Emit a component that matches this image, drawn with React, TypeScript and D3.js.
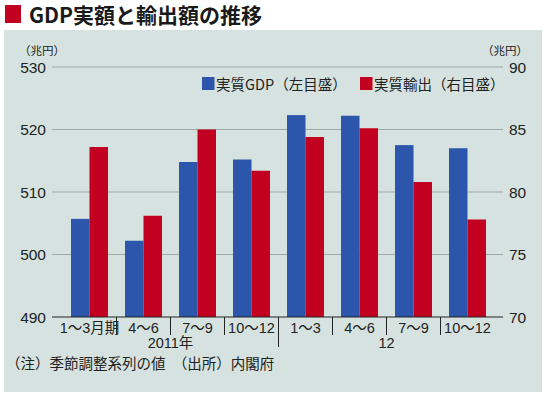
import React, { useEffect, useRef } from "react";
import * as d3 from "d3";

const quarters = ["1〜3月期", "4〜6", "7〜9", "10〜12", "1〜3", "4〜6", "7〜9", "10〜12"];
const yearLabels = ["2011年", "12"];
const yearStarts = [0, 4];
const gdpValues = [505.7, 502.2, 514.8, 515.2, 522.3, 522.2, 517.5, 517.0];
const exportValues = [83.6, 78.1, 85.0, 81.7, 84.4, 85.1, 80.8, 77.8];
const leftTicks = [490, 500, 510, 520, 530];
const rightTicks = [70, 75, 80, 85, 90];
const seriesKeys = ["gdp", "export"];
const seriesNames = ["実質GDP（左目盛）", "実質輸出（右目盛）"];
const seriesColors = ["#2b56ab", "#c2001f"];

const JP = "'Noto Sans CJK JP', sans-serif";
const NUM = "'Liberation Sans', Arial, 'Noto Sans CJK JP', sans-serif";

const App: React.FC = () => {
	const svgRef = useRef<SVGSVGElement>(null);

	useEffect(() => {
		if (!svgRef.current) return;
		const svg = d3.select(svgRef.current);
		svg.selectAll("*").remove();

		const plotLeft = 52;
		const plotRight = 503;
		const yTop = 67;
		const yBottom = 317;

		// panel + title
		svg.append("rect").attr("x", 4).attr("y", 30).attr("width", 538).attr("height", 362).attr("fill", "#d6e2df");
		svg.append("rect").attr("x", 5).attr("y", 5).attr("width", 16).attr("height", 18).attr("fill", "#c2001f");
		svg.append("text")
			.attr("x", 29).attr("y", 23)
			.attr("font-family", JP).attr("font-weight", "bold").attr("font-size", 21)
			.attr("fill", "#1a1a1a")
			.text("GDP実額と輸出額の推移");

		const idx = quarters.map((_, i) => String(i));
		const x0 = d3.scaleBand().domain(idx).range([62.5, 494.5]).padding(0);
		const x1 = d3.scaleBand().domain(seriesKeys).range([8.5, 45.5]).padding(0);
		const yLeft = d3.scaleLinear().domain([490, 530]).range([yBottom, yTop]);
		const yRight = d3.scaleLinear().domain([70, 90]).range([yBottom, yTop]);

		// grid
		svg.append("g")
			.selectAll("line")
			.data(leftTicks.slice(1))
			.join("line")
			.attr("x1", plotLeft).attr("x2", plotRight)
			.attr("y1", (d) => yLeft(d)).attr("y2", (d) => yLeft(d))
			.attr("stroke", "#9ea9a7").attr("stroke-width", 1);

		// bars
		const groups = svg.append("g")
			.selectAll("g")
			.data(idx)
			.join("g")
			.attr("transform", (d) => `translate(${x0(d)},0)`);

		groups.append("rect")
			.attr("x", x1("gdp") || 0)
			.attr("width", x1.bandwidth())
			.attr("y", (d) => yLeft(gdpValues[+d]))
			.attr("height", (d) => yBottom - yLeft(gdpValues[+d]))
			.attr("fill", seriesColors[0]);

		groups.append("rect")
			.attr("x", x1("export") || 0)
			.attr("width", x1.bandwidth())
			.attr("y", (d) => yRight(exportValues[+d]))
			.attr("height", (d) => yBottom - yRight(exportValues[+d]))
			.attr("fill", seriesColors[1]);

		// bottom axis line
		svg.append("line")
			.attr("x1", plotLeft).attr("x2", plotRight)
			.attr("y1", yBottom).attr("y2", yBottom)
			.attr("stroke", "#222").attr("stroke-width", 1.2);

		// separators
		svg.append("g")
			.selectAll("line")
			.data(idx.slice(1))
			.join("line")
			.attr("x1", (d) => x0(d) || 0).attr("x2", (d) => x0(d) || 0)
			.attr("y1", yBottom)
			.attr("y2", (d) => (yearStarts.includes(+d) ? 347 : 335))
			.attr("stroke", "#222").attr("stroke-width", 1);

		// category labels
		svg.append("g")
			.selectAll("text")
			.data(idx)
			.join("text")
			.attr("x", (d) => (x0(d) || 0) + x0.bandwidth() / 2)
			.attr("y", 333)
			.attr("text-anchor", "middle")
			.attr("font-family", NUM).attr("font-size", 14.5).attr("fill", "#222")
			.text((d) => quarters[+d]);

		svg.append("g")
			.selectAll("text")
			.data(yearLabels)
			.join("text")
			.attr("x", (_, i) => {
				const a = x0(String(yearStarts[i])) || 0;
				const b = (x0(String(yearStarts[i] + 3)) || 0) + x0.bandwidth();
				return (a + b) / 2;
			})
			.attr("y", 348)
			.attr("text-anchor", "middle")
			.attr("font-family", NUM).attr("font-size", 14.5).attr("fill", "#222")
			.text((d) => d);

		// y tick labels
		svg.append("g")
			.selectAll("text")
			.data(leftTicks)
			.join("text")
			.attr("x", 46).attr("y", (d) => yLeft(d)).attr("dy", "0.36em")
			.attr("text-anchor", "end")
			.attr("font-family", NUM).attr("font-size", 15.5).attr("fill", "#222")
			.text((d) => d);

		svg.append("g")
			.selectAll("text")
			.data(rightTicks)
			.join("text")
			.attr("x", 509).attr("y", (d) => yRight(d)).attr("dy", "0.36em")
			.attr("font-family", NUM).attr("font-size", 15.5).attr("fill", "#222")
			.text((d) => d);

		svg.append("text").attr("x", 19).attr("y", 55)
			.attr("font-family", JP).attr("font-size", 11.5).attr("fill", "#222")
			.text("（兆円）");
		svg.append("text").attr("x", 528).attr("y", 55).attr("text-anchor", "end")
			.attr("font-family", JP).attr("font-size", 11.5).attr("fill", "#222")
			.text("（兆円）");

		// legend
		const legendX = [202, 360];
		const legend = svg.append("g")
			.selectAll("g")
			.data(seriesNames)
			.join("g")
			.attr("transform", (_, i) => `translate(${legendX[i]},77)`);
		legend.append("rect").attr("width", 12.5).attr("height", 13)
			.attr("fill", (_, i) => seriesColors[i]);
		legend.append("text").attr("x", 14).attr("y", 13)
			.attr("font-family", JP).attr("font-size", 14.5).attr("fill", "#222")
			.text((d) => d);

		// footnote
		svg.append("text").attr("x", 6).attr("y", 369)
			.attr("font-family", JP).attr("font-size", 14.5).attr("fill", "#222")
			.text("（注）季節調整系列の値　（出所）内閣府");
	}, []);

	return (
		<svg
			ref={svgRef}
			width={550}
			height={399}
			style={{ position: "absolute", left: 0, top: 0, background: "#fff" }}
		/>
	);
};

export default App;
